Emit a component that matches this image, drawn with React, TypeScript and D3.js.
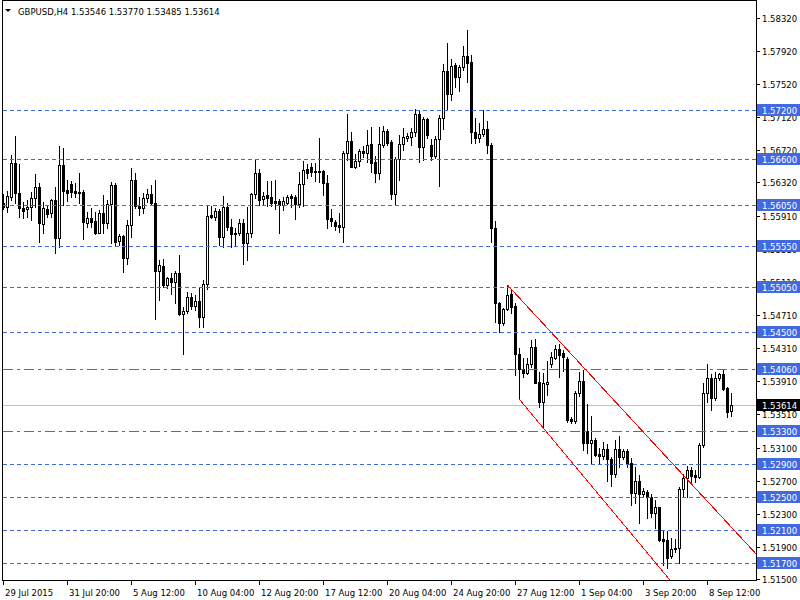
import React from "react";
import * as d3 from "d3";

const headerText = "GBPUSD,H4  1.53546 1.53770 1.53485 1.53614";

const opens = [
  1.56068, 1.56019, 1.56148, 1.56553, 1.56189, 1.56007, 1.55995, 1.56019, 1.56128, 1.56262,
  1.55816, 1.55995, 1.55946, 1.56108, 1.55643, 1.56533, 1.56229, 1.56302, 1.56217, 1.56208,
  1.56208, 1.55832, 1.55893, 1.55853, 1.55711, 1.55946, 1.55825, 1.56059, 1.56290, 1.55610,
  1.55671, 1.55400, 1.55804, 1.56350, 1.56035, 1.56007, 1.56128, 1.56180, 1.56068, 1.55249,
  1.55306, 1.55076, 1.55157, 1.55116, 1.55218, 1.54720, 1.54760, 1.54926, 1.54824, 1.54881,
  1.54691, 1.55084, 1.55926, 1.55898, 1.55974, 1.55655, 1.56019, 1.55776, 1.55703, 1.55703,
  1.55825, 1.55582, 1.55703, 1.56180, 1.56439, 1.56116, 1.56165, 1.56140, 1.56096, 1.56096,
  1.56043, 1.56075, 1.56156, 1.56140, 1.56059, 1.56298, 1.56480, 1.56512, 1.56463, 1.56460,
  1.56460, 1.56310, 1.55885, 1.55840, 1.55804, 1.55783, 1.56675, 1.56824, 1.56512, 1.56581,
  1.56703, 1.56675, 1.56784, 1.56573, 1.56439, 1.56775, 1.56945, 1.56808, 1.56184, 1.56602,
  1.56784, 1.56864, 1.56869, 1.56930, 1.57148, 1.56755, 1.57088, 1.56775, 1.56646, 1.56845,
  1.57100, 1.57674, 1.57391, 1.57747, 1.57597, 1.57726, 1.57856, 1.57787, 1.56937, 1.56857,
  1.56909, 1.56966, 1.56775, 1.55764, 1.54861, 1.54611, 1.54780, 1.54966, 1.54821, 1.54234,
  1.54052, 1.54003, 1.54113, 1.54319, 1.53894, 1.53659, 1.53877, 1.54120, 1.54193, 1.54298,
  1.54246, 1.54177, 1.53449, 1.53428, 1.53761, 1.53910, 1.53306, 1.53161, 1.53194, 1.53024,
  1.53003, 1.53081, 1.52959, 1.52781, 1.53084, 1.52984, 1.53060, 1.52911, 1.52554, 1.52699,
  1.52538, 1.52566, 1.52505, 1.52311, 1.52376, 1.51988, 1.51979, 1.51785, 1.51866, 1.51879,
  1.52595, 1.52729, 1.52829, 1.52768, 1.52741, 1.53133, 1.53768, 1.53943, 1.53707, 1.53943,
  1.53991, 1.53821, 1.53546,
];
const highs = [
  1.56180, 1.56217, 1.56654, 1.56885, 1.56541, 1.56087, 1.56108, 1.56208, 1.56423, 1.56318,
  1.56087, 1.56047, 1.56120, 1.56269, 1.56763, 1.56735, 1.56350, 1.56342, 1.56318, 1.56439,
  1.56229, 1.55966, 1.56007, 1.55966, 1.55986, 1.56168, 1.56108, 1.56330, 1.56310, 1.55691,
  1.55683, 1.55865, 1.56493, 1.56432, 1.56148, 1.56196, 1.56238, 1.56290, 1.56350, 1.55379,
  1.55388, 1.55176, 1.55218, 1.55249, 1.55440, 1.54812, 1.54994, 1.54975, 1.54954, 1.55055,
  1.55136, 1.56035, 1.56035, 1.56007, 1.55998, 1.56156, 1.56075, 1.55873, 1.55764, 1.55873,
  1.55873, 1.56026, 1.56196, 1.56593, 1.56480, 1.56201, 1.56338, 1.56338, 1.56350, 1.56116,
  1.56148, 1.56168, 1.56180, 1.56168, 1.56451, 1.56581, 1.56545, 1.56560, 1.56560, 1.56864,
  1.56472, 1.56411, 1.55995, 1.55865, 1.55946, 1.56706, 1.57152, 1.56937, 1.56666, 1.56723,
  1.56763, 1.56958, 1.56998, 1.56642, 1.56998, 1.57006, 1.56966, 1.56836, 1.56630, 1.56897,
  1.56978, 1.56925, 1.56978, 1.57209, 1.57200, 1.57115, 1.57107, 1.56848, 1.56885, 1.57140,
  1.57755, 1.58010, 1.57816, 1.57775, 1.57747, 1.57977, 1.58172, 1.57868, 1.57107, 1.57039,
  1.57200, 1.57067, 1.56803, 1.55853, 1.54873, 1.54793, 1.55076, 1.55015, 1.54853, 1.54307,
  1.54186, 1.54186, 1.54408, 1.54416, 1.54023, 1.54003, 1.54153, 1.54258, 1.54347, 1.54359,
  1.54286, 1.54198, 1.53476, 1.53789, 1.54023, 1.54044, 1.53627, 1.53489, 1.53214, 1.53093,
  1.53173, 1.53145, 1.52984, 1.53194, 1.53246, 1.53084, 1.53084, 1.52971, 1.52869, 1.52768,
  1.52607, 1.52586, 1.52538, 1.52465, 1.52384, 1.52092, 1.52092, 1.52000, 1.51988, 1.52619,
  1.52781, 1.52878, 1.52869, 1.52829, 1.53154, 1.53882, 1.54113, 1.53995, 1.54016, 1.54011,
  1.54044, 1.53841, 1.53770,
];
const lows = [
  1.55998, 1.55966, 1.56108, 1.56068, 1.55905, 1.55885, 1.55905, 1.55865, 1.56019, 1.55601,
  1.55703, 1.55898, 1.55905, 1.55468, 1.55533, 1.56047, 1.56099, 1.56148, 1.56148, 1.56068,
  1.55630, 1.55776, 1.55783, 1.55695, 1.55703, 1.55703, 1.55764, 1.55582, 1.55561, 1.55561,
  1.55237, 1.55331, 1.55662, 1.56007, 1.55926, 1.55946, 1.56087, 1.56047, 1.54659, 1.54893,
  1.55055, 1.55036, 1.54966, 1.54861, 1.54711, 1.54234, 1.54732, 1.54780, 1.54772, 1.54562,
  1.54562, 1.55023, 1.55885, 1.55865, 1.55561, 1.55533, 1.55743, 1.55533, 1.55549, 1.55683,
  1.55331, 1.55379, 1.55662, 1.56128, 1.56047, 1.56059, 1.56035, 1.56035, 1.55995, 1.55711,
  1.55986, 1.56059, 1.56019, 1.55873, 1.56026, 1.56035, 1.56378, 1.56399, 1.56342, 1.56330,
  1.56168, 1.55771, 1.55792, 1.55743, 1.55723, 1.55601, 1.56593, 1.56505, 1.56500, 1.56524,
  1.56633, 1.56573, 1.56451, 1.56330, 1.56363, 1.56755, 1.56775, 1.56120, 1.56047, 1.56350,
  1.56715, 1.56828, 1.56775, 1.56885, 1.56565, 1.56587, 1.56860, 1.56593, 1.56612, 1.56278,
  1.56966, 1.57200, 1.57322, 1.57483, 1.57435, 1.57686, 1.57544, 1.56803, 1.56796, 1.56816,
  1.56885, 1.56675, 1.55601, 1.54626, 1.54508, 1.54590, 1.54772, 1.54732, 1.53983, 1.53688,
  1.53962, 1.53995, 1.54084, 1.53882, 1.53591, 1.53336, 1.53740, 1.54084, 1.54173, 1.53962,
  1.54035, 1.53416, 1.53404, 1.53396, 1.53728, 1.53072, 1.53032, 1.52902, 1.52999, 1.52911,
  1.52959, 1.52699, 1.52635, 1.52748, 1.52869, 1.52963, 1.52869, 1.52404, 1.52425, 1.52182,
  1.52505, 1.52243, 1.52262, 1.52121, 1.51971, 1.51676, 1.51636, 1.51757, 1.51837, 1.51704,
  1.52505, 1.52498, 1.52668, 1.52687, 1.52729, 1.53105, 1.53659, 1.53558, 1.53679, 1.53922,
  1.53801, 1.53476, 1.53485,
];
const closes = [
  1.56019, 1.56156, 1.56553, 1.56189, 1.56007, 1.55978, 1.56019, 1.56128, 1.56262, 1.55825,
  1.56007, 1.55938, 1.56108, 1.55643, 1.56533, 1.56220, 1.56189, 1.56208, 1.56189, 1.56196,
  1.55844, 1.55885, 1.55844, 1.55711, 1.55946, 1.55825, 1.56059, 1.56290, 1.55601, 1.55671,
  1.55400, 1.55804, 1.56350, 1.56035, 1.56007, 1.56128, 1.56180, 1.56068, 1.55249, 1.55318,
  1.55076, 1.55157, 1.55116, 1.55218, 1.54720, 1.54760, 1.54926, 1.54824, 1.54881, 1.54691,
  1.55084, 1.55917, 1.55905, 1.55974, 1.55655, 1.56019, 1.55776, 1.55691, 1.55691, 1.55825,
  1.55582, 1.55703, 1.56180, 1.56439, 1.56108, 1.56160, 1.56128, 1.56075, 1.56075, 1.56047,
  1.56096, 1.56148, 1.56136, 1.56059, 1.56298, 1.56468, 1.56439, 1.56451, 1.56451, 1.56451,
  1.56310, 1.55873, 1.55856, 1.55792, 1.55783, 1.56682, 1.56824, 1.56512, 1.56581, 1.56703,
  1.56675, 1.56775, 1.56560, 1.56439, 1.56784, 1.56945, 1.56796, 1.56184, 1.56602, 1.56784,
  1.56869, 1.56885, 1.56930, 1.57148, 1.56755, 1.57088, 1.56893, 1.56646, 1.56845, 1.57100,
  1.57674, 1.57391, 1.57735, 1.57597, 1.57726, 1.57856, 1.57775, 1.56937, 1.56857, 1.56909,
  1.56970, 1.56775, 1.55764, 1.54861, 1.54611, 1.54780, 1.54954, 1.54812, 1.54234, 1.54052,
  1.54011, 1.54113, 1.54319, 1.53889, 1.53659, 1.53882, 1.53898, 1.54198, 1.54298, 1.54226,
  1.54198, 1.53436, 1.53428, 1.53761, 1.53910, 1.53161, 1.53161, 1.53194, 1.53011, 1.53003,
  1.53081, 1.52959, 1.52781, 1.53084, 1.52984, 1.53060, 1.52902, 1.52554, 1.52699, 1.52538,
  1.52578, 1.52505, 1.52311, 1.52376, 1.51979, 1.51971, 1.51757, 1.51866, 1.51886, 1.52595,
  1.52729, 1.52829, 1.52756, 1.52741, 1.53133, 1.53768, 1.53943, 1.53707, 1.53943, 1.53995,
  1.53813, 1.53537, 1.53614,
];

const timeLabels = [
  "29 Jul 2015", "31 Jul 20:00", "5 Aug 12:00", "10 Aug 04:00", "12 Aug 20:00", "17 Aug 12:00",
  "20 Aug 04:00", "24 Aug 20:00", "27 Aug 12:00", "1 Sep 04:00", "3 Sep 20:00", "8 Sep 12:00",
];
const timeLabelBars = [0, 16, 32, 48, 64, 80, 96, 112, 128, 144, 160, 176];

const priceTicks = [
  1.5832, 1.5792, 1.5752, 1.5712, 1.5672, 1.5632, 1.5591, 1.5551, 1.5511, 1.5471,
  1.5431, 1.5391, 1.5351, 1.531, 1.527, 1.523, 1.519, 1.515,
];
const dashedLevels = [1.572, 1.566, 1.5605, 1.5555, 1.5505, 1.545, 1.529, 1.525, 1.521, 1.517];
const dashDotLevels = [1.5406, 1.533];
const lastPrice = 1.53614;

// trendlines: [bar index, price] pairs
const trendStartBars = [126.08, 129.08];
const trendStartPrices = [1.55076, 1.53688];
const trendEndBars = [188.25, 169.25];
const trendEndPrices = [1.51811, 1.51347];

const FONT = "DejaVu Sans";
const LEVEL_COLOR = "#4169E1";

export default function App() {
  const W = 800;
  const H = 600;
  const n = opens.length;
  const plotLeft = 2;
  const plotRight = 756;
  const plotTop = 0;
  const plotBottom = 580;

  const x = d3.scaleLinear().domain([0, n - 1]).range([3, 3 + 4 * (n - 1)]);
  const y = d3.scaleLinear().domain([1.572, 1.517]).range([110, 563]);
  const py = (v: number) => Math.round(y(v));
  const fmt = d3.format(".5f");

  const candles = opens.map((o, i) => {
    const c = closes[i];
    const hi = highs[i];
    const lo = lows[i];
    const cx = Math.round(x(i));
    const top = py(Math.max(o, c));
    const bot = py(Math.min(o, c));
    const bull = c >= o;
    return (
      <g key={i}>
        <line x1={cx + 0.5} x2={cx + 0.5} y1={py(hi)} y2={py(lo) + 1} stroke="#000" strokeWidth={1} />
        {bull ? (
          bot - top >= 1 ? (
            <rect x={cx - 0.5} y={top + 0.5} width={2} height={bot - top} fill="#fff" stroke="#000" strokeWidth={1} />
          ) : (
            <rect x={cx - 1} y={top} width={3} height={1} fill="#000" />
          )
        ) : (
          <rect x={cx - 1} y={top} width={3} height={Math.max(1, bot - top + 1)} fill="#000" />
        )}
      </g>
    );
  });

  const lineGen = d3
    .line<[number, number]>()
    .x((d) => x(d[0]))
    .y((d) => y(d[1]));

  const levelBox = (v: number, key: string, bg: string) => {
    const yc = py(v);
    return (
      <g key={key}>
        <rect x={757} y={yc - 6} width={43} height={12} fill={bg} />
        <text x={762} y={yc + 3.5} fontFamily={FONT} fontSize={8.5} fill="#fff">
          {fmt(v)}
        </text>
      </g>
    );
  };

  return (
    <svg
      width={W}
      height={H}
      viewBox={`0 0 ${W} ${H}`}
      style={{ position: "absolute", left: 0, top: 0, background: "#fff" }}
    >
      <defs>
        <clipPath id="plotClip">
          <rect x={plotLeft + 1} y={plotTop + 1} width={plotRight - plotLeft - 1} height={plotBottom - plotTop - 1} />
        </clipPath>
      </defs>
      <rect x={0} y={0} width={W} height={H} fill="#fff" />

      <g clipPath="url(#plotClip)">
        {/* bid line */}
        <line x1={plotLeft} x2={plotRight} y1={py(lastPrice) + 0.5} y2={py(lastPrice) + 0.5} stroke="#C0C0C0" strokeWidth={1} />
        {candles}
        {dashedLevels.map((v, i) => (
          <line
            key={"d" + i}
            x1={plotLeft + 1}
            x2={plotRight}
            y1={py(v) + 0.5}
            y2={py(v) + 0.5}
            stroke={LEVEL_COLOR}
            strokeWidth={1}
            strokeDasharray="4,3"
          />
        ))}
        {dashDotLevels.map((v, i) => (
          <line
            key={"dd" + i}
            x1={plotLeft + 1}
            x2={plotRight}
            y1={py(v) + 0.5}
            y2={py(v) + 0.5}
            stroke={LEVEL_COLOR}
            strokeWidth={1}
            strokeDasharray="10,4,3,4"
          />
        ))}
        {trendStartBars.map((b, i) => (
          <path
            key={"t" + i}
            d={lineGen([
              [b, trendStartPrices[i]],
              [trendEndBars[i], trendEndPrices[i]],
            ]) || ""}
            stroke="#FF0000"
            strokeWidth={1}
            fill="none"
            shapeRendering="crispEdges"
          />
        ))}
      </g>

      {/* frame */}
      <line x1={plotLeft + 0.5} x2={plotLeft + 0.5} y1={plotTop} y2={plotBottom + 1} stroke="#000" />
      <line x1={plotLeft} x2={plotRight + 1} y1={plotTop + 0.5} y2={plotTop + 0.5} stroke="#000" />
      <line x1={plotRight + 0.5} x2={plotRight + 0.5} y1={plotTop} y2={plotBottom + 1} stroke="#000" />
      <line x1={plotLeft} x2={plotRight + 1} y1={plotBottom + 0.5} y2={plotBottom + 0.5} stroke="#000" />

      {/* header */}
      <path d="M5,9 L11,9 L8,12 Z" fill="#000" />
      <text x={18} y={15} fontFamily={FONT} fontSize={8.5} fill="#000">
        {headerText}
      </text>

      {/* price axis */}
      {priceTicks.map((v, i) => {
        const yy = py(v);
        return (
          <g key={"pt" + i}>
            <line x1={plotRight + 1} x2={plotRight + 4} y1={yy + 0.5} y2={yy + 0.5} stroke="#000" />
            <text x={762} y={yy + 3.5} fontFamily={FONT} fontSize={8.5} fill="#000">
              {fmt(v)}
            </text>
          </g>
        );
      })}

      {/* time axis */}
      {timeLabelBars.map((b, i) => {
        const cx = Math.round(x(b));
        return (
          <g key={"tl" + i}>
            <line x1={cx + 0.5} x2={cx + 0.5} y1={plotBottom + 1} y2={plotBottom + 5} stroke="#000" />
            <text x={cx + 2} y={596} fontFamily={FONT} fontSize={8.5} fill="#000">
              {timeLabels[i]}
            </text>
          </g>
        );
      })}

      {/* level labels */}
      {dashedLevels.map((v, i) => levelBox(v, "lb" + i, LEVEL_COLOR))}
      {dashDotLevels.map((v, i) => levelBox(v, "lbd" + i, LEVEL_COLOR))}
      {levelBox(lastPrice, "last", "#000")}
    </svg>
  );
}
